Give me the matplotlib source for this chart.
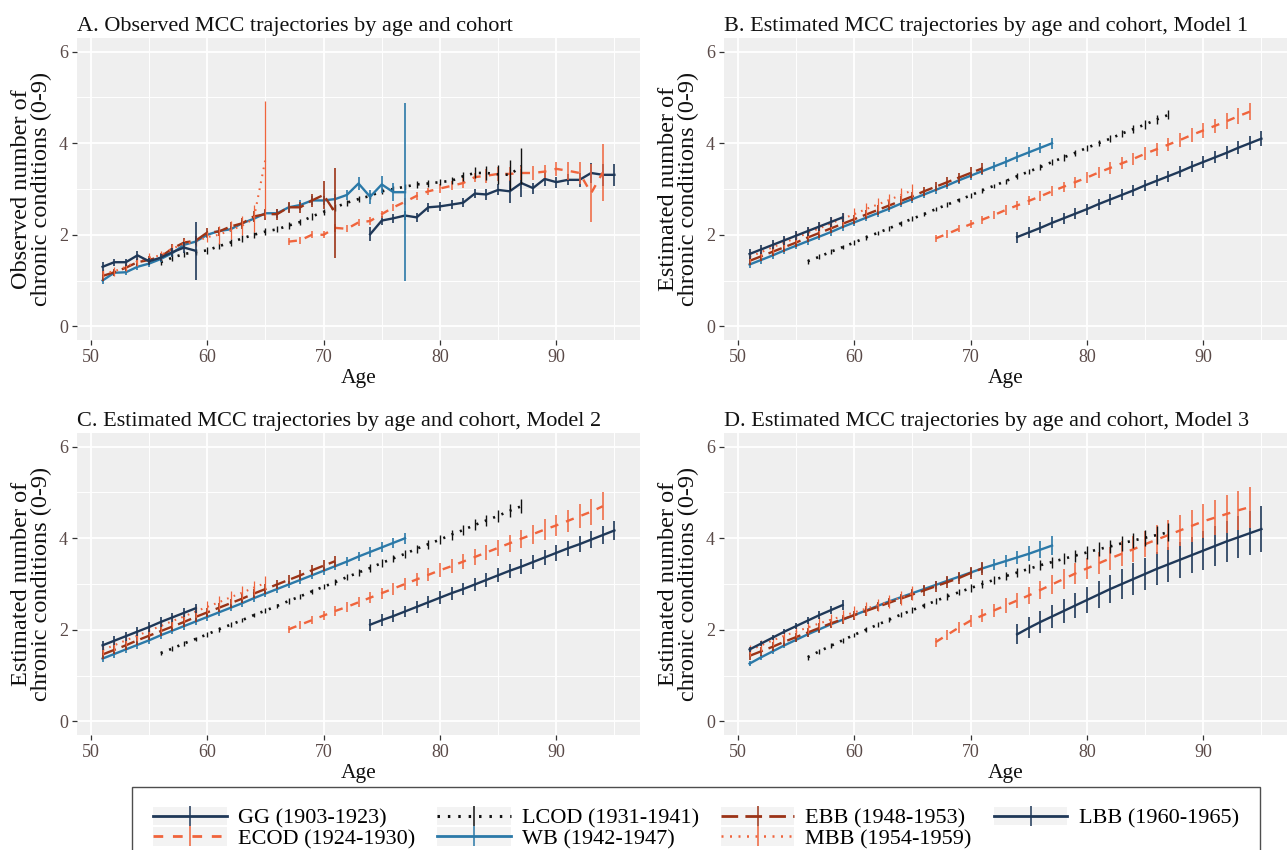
import matplotlib
matplotlib.use("Agg")
import matplotlib.pyplot as plt
from matplotlib.lines import Line2D
from matplotlib.patches import Rectangle
from matplotlib.legend_handler import HandlerLine2D

plt.rcParams['font.family'] = ['Liberation Serif', 'DejaVu Serif']

# ---------------- cohorts ----------------
COHORTS = ["GG (1903-1923)", "ECOD (1924-1930)", "LCOD (1931-1941)", "WB (1942-1947)",
           "EBB (1948-1953)", "MBB (1954-1959)", "LBB (1960-1965)"]
AGES_GG = list(range(74, 96))
AGES_ECOD = list(range(67, 95))
AGES_LCOD = list(range(56, 88))
AGES_WB = list(range(51, 78))
AGES_EBB = list(range(51, 72))
AGES_MBB = list(range(51, 66))
AGES_LBB = list(range(51, 60))

# ---------------- Panel A: observed ----------------
A_GG = [2.01, 2.31, 2.36, 2.42, 2.38, 2.60, 2.62, 2.66, 2.70, 2.90, 2.88, 2.98, 2.95, 3.13, 3.02, 3.22,
        3.15, 3.20, 3.20, 3.35, 3.31, 3.31]
A_GG_E = [0.15, 0.10, 0.10, 0.10, 0.10, 0.10, 0.10, 0.10, 0.10, 0.10, 0.12, 0.12, 0.25, 0.30, 0.12, 0.15,
          0.12, 0.12, 0.15, 0.22, 0.24, 0.24]
A_ECOD = [1.85, 1.88, 2.00, 2.00, 2.15, 2.13, 2.27, 2.30, 2.45, 2.60, 2.72, 2.85, 2.95, 3.01, 3.07, 3.13,
          3.26, 3.29, 3.33, 3.33, 3.35, 3.35, 3.38, 3.44, 3.40, 3.35, 2.91, 3.36]
A_ECOD_E = [0.08, 0.08, 0.08, 0.08, 0.08, 0.08, 0.08, 0.08, 0.08, 0.08, 0.08, 0.08, 0.08, 0.10, 0.10, 0.10,
            0.10, 0.15, 0.15, 0.15, 0.15, 0.15, 0.15, 0.15, 0.20, 0.25, 0.64, 0.63]
A_LCOD = [1.40, 1.50, 1.58, 1.62, 1.66, 1.75, 1.83, 1.92, 2.00, 2.07, 2.12, 2.20, 2.28, 2.40, 2.50, 2.60,
          2.70, 2.78, 2.85, 2.95, 3.00, 3.05, 3.10, 3.12, 3.15, 3.18, 3.28, 3.35, 3.35, 3.32, 3.31, 3.50]
A_LCOD_E = [0.07, 0.07, 0.07, 0.07, 0.07, 0.07, 0.07, 0.07, 0.07, 0.07, 0.07, 0.07, 0.07, 0.07, 0.07, 0.07,
            0.07, 0.07, 0.07, 0.07, 0.07, 0.07, 0.07, 0.07, 0.07, 0.08, 0.10, 0.12, 0.15, 0.20, 0.33, 0.40]
A_WB = [1.00, 1.17, 1.18, 1.30, 1.37, 1.47, 1.60, 1.78, 1.85, 2.00, 2.08, 2.12, 2.25, 2.35, 2.47, 2.47,
        2.60, 2.65, 2.75, 2.75, 2.78, 2.87, 3.12, 2.83, 3.10, 2.93, 2.93]
A_WB_E = [0.08, 0.07, 0.07, 0.07, 0.07, 0.07, 0.07, 0.07, 0.07, 0.07, 0.07, 0.07, 0.07, 0.07, 0.07, 0.10,
          0.10, 0.10, 0.10, 0.10, 0.10, 0.10, 0.15, 0.15, 0.18, 0.20, 1.95]
A_EBB = [1.10, 1.18, 1.28, 1.40, 1.45, 1.52, 1.70, 1.83, 1.87, 2.05, 2.07, 2.18, 2.25, 2.40, 2.45, 2.45,
         2.60, 2.60, 2.75, 2.87, 2.48]
A_EBB_E = [0.10, 0.08, 0.08, 0.08, 0.08, 0.08, 0.10, 0.10, 0.10, 0.10, 0.10, 0.10, 0.12, 0.12, 0.12, 0.12,
           0.12, 0.12, 0.15, 0.30, 0.98]
A_MBB = [1.15, 1.20, 1.30, 1.42, 1.50, 1.55, 1.70, 1.80, 1.85, 1.95, 2.00, 2.10, 2.20, 2.35, 3.65]
A_MBB_E = [0.10, 0.10, 0.10, 0.10, 0.10, 0.10, 0.10, 0.10, 0.10, 0.10, 0.20, 0.20, 0.20, 0.30, 1.27]
A_LBB = [1.30, 1.40, 1.40, 1.55, 1.42, 1.50, 1.62, 1.72, 1.65]
A_LBB_E = [0.10, 0.08, 0.08, 0.10, 0.07, 0.08, 0.10, 0.12, 0.63]

# ---------------- Panel B: Model 1 ----------------
B_GG = [1.95, 2.05, 2.15, 2.26, 2.36, 2.46, 2.56, 2.67, 2.77, 2.87, 2.97, 3.08, 3.18, 3.28, 3.38, 3.49,
        3.59, 3.69, 3.79, 3.90, 4.00, 4.10]
B_GG_E = [0.12, 0.12, 0.12, 0.12, 0.12, 0.12, 0.12, 0.12, 0.12, 0.12, 0.12, 0.12, 0.12, 0.12, 0.12, 0.12,
          0.13, 0.13, 0.14, 0.14, 0.15, 0.16]
B_ECOD = [1.92, 2.02, 2.13, 2.23, 2.33, 2.43, 2.54, 2.64, 2.74, 2.84, 2.95, 3.05, 3.15, 3.25, 3.36, 3.46,
          3.56, 3.66, 3.77, 3.87, 3.97, 4.07, 4.18, 4.28, 4.38, 4.48, 4.59, 4.69]
B_ECOD_E = [0.08, 0.08, 0.08, 0.09, 0.09, 0.09, 0.10, 0.10, 0.10, 0.11, 0.11, 0.11, 0.12, 0.12, 0.12, 0.13,
            0.13, 0.13, 0.14, 0.14, 0.14, 0.15, 0.15, 0.16, 0.16, 0.17, 0.17, 0.18]
B_LCOD = [1.42, 1.52, 1.63, 1.73, 1.83, 1.94, 2.04, 2.14, 2.25, 2.35, 2.45, 2.56, 2.66, 2.76, 2.86, 2.97,
          3.07, 3.17, 3.28, 3.38, 3.48, 3.59, 3.69, 3.79, 3.90, 4.00, 4.10, 4.21, 4.31, 4.41, 4.52, 4.62]
B_LCOD_E = [0.05, 0.05, 0.05, 0.05, 0.05, 0.05, 0.05, 0.05, 0.05, 0.05, 0.05, 0.05, 0.05, 0.05, 0.05, 0.05,
            0.05, 0.05, 0.06, 0.06, 0.06, 0.06, 0.07, 0.07, 0.07, 0.07, 0.08, 0.08, 0.08, 0.09, 0.09, 0.10]
B_WB = [1.35, 1.45, 1.55, 1.66, 1.76, 1.86, 1.96, 2.06, 2.17, 2.27, 2.37, 2.47, 2.57, 2.68, 2.78, 2.88,
        2.98, 3.08, 3.19, 3.29, 3.39, 3.49, 3.59, 3.70, 3.80, 3.90, 4.00]
B_WB_E = [0.08, 0.08, 0.08, 0.08, 0.08, 0.08, 0.08, 0.08, 0.08, 0.08, 0.08, 0.08, 0.08, 0.08, 0.08, 0.08,
          0.08, 0.08, 0.09, 0.09, 0.09, 0.10, 0.10, 0.10, 0.11, 0.11, 0.12]
B_EBB = [1.43, 1.53, 1.63, 1.73, 1.83, 1.94, 2.04, 2.14, 2.24, 2.34, 2.44, 2.54, 2.64, 2.74, 2.84, 2.95,
         3.05, 3.15, 3.25, 3.35, 3.45]
B_EBB_E = [0.10, 0.10, 0.10, 0.10, 0.10, 0.10, 0.10, 0.10, 0.10, 0.10, 0.10, 0.10, 0.10, 0.10, 0.10, 0.10,
           0.10, 0.11, 0.11, 0.12, 0.12]
B_MBB = [1.52, 1.62, 1.73, 1.83, 1.93, 2.04, 2.14, 2.25, 2.35, 2.45, 2.56, 2.66, 2.76, 2.87, 2.97]
B_MBB_E = [0.12, 0.12, 0.12, 0.12, 0.12, 0.12, 0.13, 0.13, 0.13, 0.13, 0.14, 0.14, 0.14, 0.15, 0.15]
B_LBB = [1.58, 1.68, 1.78, 1.88, 1.98, 2.08, 2.18, 2.28, 2.38]
B_LBB_E = [0.10, 0.10, 0.10, 0.10, 0.10, 0.10, 0.10, 0.10, 0.10]

# ---------------- Panel C: Model 2 ----------------
C_GG = [2.11, 2.21, 2.30, 2.40, 2.50, 2.60, 2.70, 2.80, 2.89, 2.99, 3.09, 3.19, 3.29, 3.38, 3.48, 3.58,
        3.68, 3.78, 3.87, 3.97, 4.07, 4.17]
C_GG_E = [0.13, 0.13, 0.13, 0.13, 0.13, 0.13, 0.14, 0.14, 0.14, 0.14, 0.15, 0.15, 0.15, 0.16, 0.16, 0.16,
          0.17, 0.17, 0.18, 0.18, 0.19, 0.20]
C_ECOD = [2.01, 2.11, 2.21, 2.31, 2.41, 2.50, 2.60, 2.70, 2.80, 2.90, 3.00, 3.10, 3.20, 3.30, 3.39, 3.49,
          3.59, 3.69, 3.79, 3.89, 3.99, 4.09, 4.19, 4.28, 4.38, 4.48, 4.58, 4.70]
C_ECOD_E = [0.08, 0.09, 0.09, 0.10, 0.10, 0.11, 0.11, 0.12, 0.12, 0.13, 0.13, 0.14, 0.14, 0.15, 0.15, 0.16,
            0.17, 0.17, 0.18, 0.19, 0.20, 0.21, 0.22, 0.23, 0.24, 0.26, 0.28, 0.30]
C_LCOD = [1.49, 1.59, 1.70, 1.80, 1.90, 2.01, 2.11, 2.21, 2.32, 2.42, 2.52, 2.63, 2.73, 2.84, 2.94, 3.04,
          3.15, 3.25, 3.35, 3.46, 3.56, 3.66, 3.77, 3.87, 3.97, 4.08, 4.18, 4.29, 4.39, 4.49, 4.60, 4.70]
C_LCOD_E = [0.05, 0.05, 0.05, 0.05, 0.05, 0.05, 0.05, 0.05, 0.05, 0.05, 0.05, 0.06, 0.06, 0.06, 0.06, 0.07,
            0.07, 0.07, 0.08, 0.08, 0.08, 0.09, 0.09, 0.10, 0.10, 0.11, 0.11, 0.12, 0.12, 0.13, 0.14, 0.15]
C_WB = [1.37, 1.47, 1.57, 1.67, 1.77, 1.88, 1.98, 2.08, 2.18, 2.28, 2.38, 2.48, 2.58, 2.69, 2.79, 2.89,
        2.99, 3.09, 3.19, 3.29, 3.39, 3.49, 3.60, 3.70, 3.80, 3.90, 4.00]
C_WB_E = [0.08, 0.08, 0.08, 0.08, 0.08, 0.08, 0.08, 0.08, 0.08, 0.08, 0.08, 0.08, 0.08, 0.08, 0.08, 0.08,
          0.08, 0.08, 0.09, 0.09, 0.09, 0.10, 0.10, 0.10, 0.11, 0.11, 0.12]
C_EBB = [1.46, 1.56, 1.66, 1.77, 1.87, 1.97, 2.07, 2.17, 2.28, 2.38, 2.48, 2.58, 2.68, 2.79, 2.89, 2.99,
         3.09, 3.19, 3.30, 3.40, 3.50]
C_EBB_E = [0.10, 0.10, 0.10, 0.10, 0.10, 0.10, 0.10, 0.10, 0.10, 0.10, 0.10, 0.10, 0.10, 0.10, 0.10, 0.10,
           0.10, 0.11, 0.11, 0.12, 0.12]
C_MBB = [1.56, 1.66, 1.77, 1.87, 1.98, 2.08, 2.19, 2.29, 2.40, 2.50, 2.60, 2.71, 2.81, 2.92, 3.02]
C_MBB_E = [0.12, 0.12, 0.12, 0.12, 0.12, 0.12, 0.13, 0.13, 0.13, 0.13, 0.14, 0.14, 0.14, 0.15, 0.15]
C_LBB = [1.66, 1.76, 1.86, 1.96, 2.06, 2.17, 2.27, 2.37, 2.47]
C_LBB_E = [0.10, 0.10, 0.10, 0.10, 0.10, 0.10, 0.10, 0.10, 0.10]

# ---------------- Panel D: Model 3 ----------------
D_GG = [1.90, 2.04, 2.17, 2.29, 2.41, 2.53, 2.65, 2.77, 2.89, 3.00, 3.11, 3.22, 3.33, 3.43, 3.53, 3.63,
        3.73, 3.83, 3.93, 4.02, 4.11, 4.20]
D_GG_E = [0.22, 0.23, 0.24, 0.25, 0.27, 0.28, 0.29, 0.30, 0.31, 0.33, 0.34, 0.35, 0.36, 0.38, 0.39, 0.40,
          0.42, 0.43, 0.44, 0.46, 0.48, 0.50]
D_ECOD = [1.73, 1.89, 2.05, 2.20, 2.31, 2.42, 2.53, 2.64, 2.75, 2.87, 2.99, 3.11, 3.23, 3.34, 3.45, 3.56,
          3.66, 3.76, 3.87, 3.97, 4.07, 4.17, 4.27, 4.37, 4.45, 4.53, 4.61, 4.68]
D_ECOD_E = [0.10, 0.11, 0.12, 0.13, 0.14, 0.15, 0.16, 0.17, 0.18, 0.19, 0.20, 0.21, 0.22, 0.23, 0.24, 0.25,
            0.27, 0.28, 0.29, 0.31, 0.32, 0.34, 0.35, 0.37, 0.39, 0.41, 0.43, 0.45]
D_LCOD = [1.40, 1.53, 1.65, 1.77, 1.89, 2.00, 2.11, 2.22, 2.33, 2.43, 2.53, 2.63, 2.73, 2.82, 2.91, 3.00,
          3.09, 3.17, 3.25, 3.33, 3.41, 3.48, 3.55, 3.62, 3.69, 3.76, 3.82, 3.89, 3.95, 4.01, 4.07, 4.13]
D_LCOD_E = [0.05, 0.05, 0.05, 0.05, 0.05, 0.05, 0.05, 0.05, 0.05, 0.06, 0.06, 0.06, 0.07, 0.07, 0.08, 0.08,
            0.09, 0.09, 0.10, 0.10, 0.11, 0.12, 0.12, 0.13, 0.14, 0.15, 0.15, 0.16, 0.17, 0.18, 0.19, 0.20]
D_WB = [1.26, 1.40, 1.53, 1.66, 1.78, 1.90, 2.01, 2.12, 2.22, 2.32, 2.42, 2.52, 2.62, 2.71, 2.80, 2.89,
        2.98, 3.07, 3.16, 3.25, 3.34, 3.42, 3.50, 3.58, 3.66, 3.75, 3.84]
D_WB_E = [0.05, 0.05, 0.05, 0.05, 0.05, 0.05, 0.05, 0.05, 0.05, 0.05, 0.05, 0.06, 0.06, 0.06, 0.07, 0.07,
          0.08, 0.08, 0.09, 0.10, 0.11, 0.12, 0.13, 0.14, 0.16, 0.18, 0.20]
D_EBB = [1.43, 1.53, 1.63, 1.74, 1.84, 1.94, 2.04, 2.14, 2.23, 2.32, 2.41, 2.50, 2.59, 2.68, 2.77, 2.86,
         2.95, 3.04, 3.13, 3.24, 3.34]
D_EBB_E = [0.10, 0.10, 0.10, 0.10, 0.10, 0.10, 0.10, 0.10, 0.10, 0.10, 0.10, 0.10, 0.10, 0.11, 0.11, 0.12,
           0.12, 0.13, 0.13, 0.14, 0.15]
D_MBB = [1.55, 1.66, 1.77, 1.87, 1.96, 2.05, 2.14, 2.22, 2.30, 2.38, 2.46, 2.54, 2.62, 2.70, 2.80]
D_MBB_E = [0.12, 0.12, 0.12, 0.12, 0.12, 0.12, 0.13, 0.13, 0.13, 0.13, 0.14, 0.14, 0.14, 0.15, 0.15]
D_LBB = [1.57, 1.70, 1.83, 1.96, 2.08, 2.20, 2.32, 2.43, 2.54]
D_LBB_E = [0.05, 0.05, 0.06, 0.06, 0.07, 0.07, 0.08, 0.09, 0.10]

TITLES = ["A. Observed MCC trajectories by age and cohort",
          "B. Estimated MCC trajectories by age and cohort, Model 1",
          "C. Estimated MCC trajectories by age and cohort, Model 2",
          "D. Estimated MCC trajectories by age and cohort, Model 3"]
YLABELS = ["Observed number of\nchronic conditions (0-9)",
           "Estimated number of\nchronic conditions (0-9)",
           "Estimated number of\nchronic conditions (0-9)",
           "Estimated number of\nchronic conditions (0-9)"]
XTICKS = [50, 60, 70, 80, 90]
YTICKS = [0, 2, 4, 6]

# ---------------- styles ----------------
NAVY = "#1F3858"
ORANGE = "#F0643C"
DARKRED = "#9B3316"
TEAL = "#2B79A8"
BLACK = "#111111"
COLORS = [NAVY, ORANGE, BLACK, TEAL, DARKRED, ORANGE, NAVY]
STYLES = ["-", (0, (3.5, 3.5)), (0, (0.8, 2.6)), "-", (0, (6, 2.6)), (0, (0.8, 2.6)), "-"]
LWS = [1.7, 1.7, 1.9, 1.7, 1.7, 1.5, 1.7]
ELWS = [1.2, 1.1, 1.0, 1.2, 1.2, 0.9, 1.2]

AGES = [AGES_GG, AGES_ECOD, AGES_LCOD, AGES_WB, AGES_EBB, AGES_MBB, AGES_LBB]
PANELS = [
    ([A_GG, A_ECOD, A_LCOD, A_WB, A_EBB, A_MBB, A_LBB],
     [A_GG_E, A_ECOD_E, A_LCOD_E, A_WB_E, A_EBB_E, A_MBB_E, A_LBB_E]),
    ([B_GG, B_ECOD, B_LCOD, B_WB, B_EBB, B_MBB, B_LBB],
     [B_GG_E, B_ECOD_E, B_LCOD_E, B_WB_E, B_EBB_E, B_MBB_E, B_LBB_E]),
    ([C_GG, C_ECOD, C_LCOD, C_WB, C_EBB, C_MBB, C_LBB],
     [C_GG_E, C_ECOD_E, C_LCOD_E, C_WB_E, C_EBB_E, C_MBB_E, C_LBB_E]),
    ([D_GG, D_ECOD, D_LCOD, D_WB, D_EBB, D_MBB, D_LBB],
     [D_GG_E, D_ECOD_E, D_LCOD_E, D_WB_E, D_EBB_E, D_MBB_E, D_LBB_E]),
]

W, H = 1287, 850
fig = plt.figure(figsize=(W / 100, H / 100), dpi=100)

# panel boxes in pixels: (left, top, right, bottom)
BOXES = [(77, 38, 640, 340), (724, 38, 1287, 340), (77, 433, 640, 735), (724, 433, 1287, 735)]

PANEL_BG = "#EFEFEF"
TICK_COLOR = "#5A4A48"

for i, (box, (vals, errs)) in enumerate(zip(BOXES, PANELS)):
    l, t, r, b = box
    ax = fig.add_axes([l / W, 1 - b / H, (r - l) / W, (b - t) / H])
    ax.set_facecolor(PANEL_BG)
    for s in ax.spines.values():
        s.set_visible(False)
    ax.set_xlim(48.8, 97.2)
    ax.set_ylim(-0.3, 6.3)
    ax.set_xticks(XTICKS)
    ax.set_yticks(YTICKS)
    ax.set_xticks([55, 65, 75, 85, 95], minor=True)
    ax.set_yticks([1, 3, 5], minor=True)
    ax.grid(True, which="major", color="white", lw=1.3)
    ax.grid(True, which="minor", color="white", lw=0.7)
    ax.set_axisbelow(True)
    ax.tick_params(which="major", length=3.5, width=0.9, color="#333333",
                   labelsize=13, labelcolor=TICK_COLOR, pad=3)
    ax.tick_params(which="minor", length=0)
    for k in range(7):
        x = AGES[k]
        y = vals[k]
        e = errs[k]
        ax.plot(x, y, color=COLORS[k], ls=STYLES[k], lw=LWS[k], zorder=3 + k * 0.1)
        ax.vlines(x, [v - d for v, d in zip(y, e)], [v + d for v, d in zip(y, e)],
                  color=COLORS[k], lw=ELWS[k], zorder=3 + k * 0.1)
    ax.set_title(TITLES[i], loc="left", fontsize=16.0, color="#111111", pad=5)
    ax.set_xlabel("Age", fontsize=15.5, color="#111111", labelpad=2)
    ax.set_ylabel(YLABELS[i], fontsize=17.5, color="#111111", labelpad=5, linespacing=0.95)


class KeyHandler(HandlerLine2D):
    """Legend key with a light grey background, as ggplot draws it."""
    def create_artists(self, legend, orig_handle, xdescent, ydescent, width, height,
                       fontsize, trans):
        arts = super().create_artists(legend, orig_handle, xdescent, ydescent, width,
                                      height, fontsize, trans)
        bg = Rectangle((-xdescent, -ydescent - 1), width, height + 2,
                       facecolor="#F3F3F3", edgecolor="none", transform=trans)
        return [bg] + list(arts)


handles = [Line2D([0], [0], color=COLORS[k], ls=STYLES[k], lw=LWS[k] + 0.3, marker="|",
                  markersize=14, markeredgewidth=1.1) for k in range(7)]
leg = fig.legend(handles, COHORTS, loc="upper center", bbox_to_anchor=(696 / W, 1 - 787 / H),
                 ncol=4, fontsize=16, frameon=True, fancybox=False, edgecolor="#222222",
                 handlelength=3.3, handletextpad=0.5, columnspacing=1.0, labelspacing=0.0,
                 borderpad=0.95, borderaxespad=0.0, numpoints=1,
                 handler_map={Line2D: KeyHandler(numpoints=1)})
leg.get_frame().set_linewidth(1.0)

fig.savefig("out.png", dpi=100)
